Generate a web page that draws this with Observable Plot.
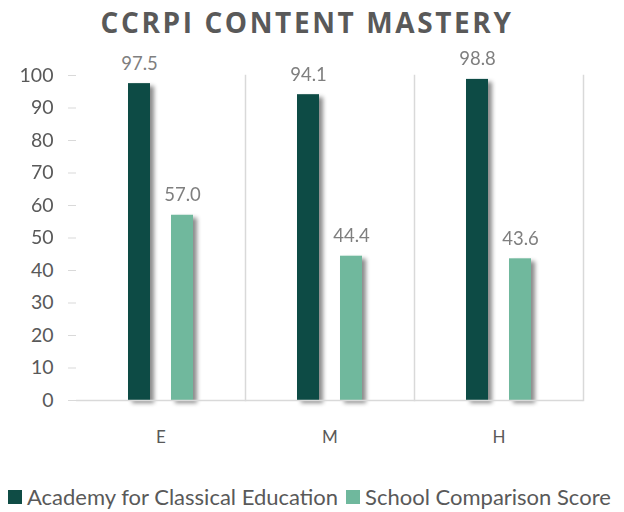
<!DOCTYPE html>
<html>
<head>
<meta charset="utf-8">
<script src="https://cdn.jsdelivr.net/npm/d3@7"></script>
<script src="https://cdn.jsdelivr.net/npm/@observablehq/plot@0.6"></script>
<style>
  html, body { margin: 0; padding: 0; background: #fff; }
  body { width: 624px; height: 512px; overflow: hidden; font-family: Lato, "Open Sans", sans-serif; }
  #title { height: 42px; box-sizing: border-box; padding-top: 2px; padding-right: 10px; line-height: 40px; text-align: center;
    font-family: "Open Sans", sans-serif; font-weight: 700; font-size: 28px; letter-spacing: 2.6px; color: #595959; }
  #legend { display: flex; align-items: center; margin-top: 22px; padding-left: 8px; font-size: 22px; line-height: 26px; color: #595959; white-space: nowrap; }
  #legend .item { display: flex; align-items: center; margin-right: 8px; }
  #legend .sw { width: 14px; height: 14px; margin-right: 5px; display: inline-block; }
</style>
</head>
<body>
<div id="title"></div>
<div id="chart"></div>
<div id="legend"></div>
<script>
const titleText = "CCRPI CONTENT MASTERY";
const categories = ["E", "M", "H"];
const series = ["Academy for Classical Education", "School Comparison Score"];
const academyValues = [97.5, 94.1, 98.8];
const comparisonValues = [57.0, 44.4, 43.6];
const yTicks = [0, 10, 20, 30, 40, 50, 60, 70, 80, 90, 100];
const seriesColors = ["#0f4c45", "#6fb89d"];

const data = [];
categories.forEach((c, i) => {
  data.push({category: c, series: series[0], value: academyValues[i]});
  data.push({category: c, series: series[1], value: comparisonValues[i]});
});

document.getElementById("title").textContent = titleText;

const plot = Plot.plot({
  width: 624,
  height: 420,
  marginTop: 33,
  marginBottom: 62,
  marginLeft: 75,
  marginRight: 40,
  style: {fontFamily: "Lato, 'Open Sans', sans-serif", background: "#fff"},
  fx: {domain: categories, padding: 0, label: null, axis: null},
  x: {domain: series, axis: null, paddingInner: 0.477, paddingOuter: 1.17},
  y: {domain: [0, 100], axis: null},
  color: {domain: series, range: seriesColors},
  marks: [
    Plot.frame({anchor: "right", stroke: "#d9d9d9", strokeWidth: 1.5, strokeOpacity: 1}),
    Plot.barY(data, {fx: "category", x: "series", y: "value", fill: "series"}),
    Plot.ruleY([0], {stroke: "#d9d9d9", strokeWidth: 1.5}),
    Plot.text(data, {fx: "category", x: "series", y: "value", text: d => d.value.toFixed(1),
      lineAnchor: "bottom", dy: -14, fill: "#7f7f7f", fontSize: 18.5}),
    Plot.axisY(yTicks, {anchor: "left", ticks: yTicks, tickSize: 8, tickPadding: 15, stroke: "#d9d9d9",
      fill: "#595959", fontSize: 19.5, label: null, tickFormat: d => String(d)}),
    Plot.ruleX([0], {frameAnchor: "left", stroke: "#d9d9d9", strokeWidth: 1.5}),
    Plot.axisFx({anchor: "bottom", tickSize: 0, tickPadding: 30, fontSize: 17, fill: "#595959", label: null})
  ]
});

// soft drop shadow on bars like the original
const ns = "http://www.w3.org/2000/svg";
const defs = document.createElementNS(ns, "defs");
defs.innerHTML = '<filter id="shadow" x="-30%" y="-10%" width="160%" height="130%"><feDropShadow dx="4" dy="3" stdDeviation="2.2" flood-color="#000" flood-opacity="0.45"/></filter>';
plot.insertBefore(defs, plot.firstChild);
plot.querySelectorAll('g[aria-label="bar"]').forEach(g => g.setAttribute("filter", "url(#shadow)"));

document.getElementById("chart").appendChild(plot);

const legend = document.getElementById("legend");
series.forEach((s, i) => {
  const item = document.createElement("span");
  item.className = "item";
  const sw = document.createElement("span");
  sw.className = "sw";
  sw.style.background = seriesColors[i];
  item.appendChild(sw);
  item.appendChild(document.createTextNode(s));
  legend.appendChild(item);
});
</script>
</body>
</html>
